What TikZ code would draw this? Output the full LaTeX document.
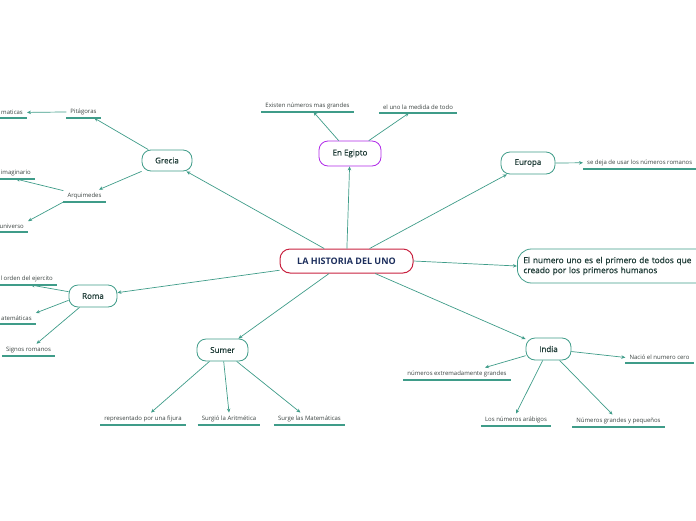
\documentclass[tikz,border=0pt]{standalone}
\usepackage{fontspec}
\setmainfont{Open Sans}
\newfontfamily\semib{Open Sans}[FakeBold=0.7]
\usetikzlibrary{arrows.meta}
\definecolor{teal1}{HTML}{3F9C89}
\definecolor{txt}{HTML}{1E3B36}
\definecolor{leaftxt}{HTML}{3A4240}
\definecolor{ctr}{HTML}{C8213F}
\definecolor{ctrtxt}{HTML}{1C2E5C}
\definecolor{purp}{HTML}{B02AE8}
\begin{document}
\begin{tikzpicture}[x=1pt,y=-1pt,
 topic/.style={draw=teal1, line width=0.8pt, rounded corners=9pt, fill=white, font=\semib\fontsize{8}{9}\selectfont, text=txt, inner sep=0pt},
 leaf/.style={font=\fontsize{6}{7}\selectfont, text=leaftxt, inner xsep=4pt, inner ysep=3pt},
 uline/.style={draw=teal1, line width=1.2pt},
 conn/.style={draw=teal1, line width=0.7pt, -{Stealth[length=4pt,width=3.5pt]}},
]
\useasboundingbox (0,0) rectangle (696,520);
% central
\node[draw=ctr, line width=1pt, rounded corners=10pt, minimum width=133pt, minimum height=24pt, inner sep=0pt, text=ctrtxt, font=\fontsize{9}{10}\selectfont\bfseries] (ctr) at (346.5,261) {LA HISTORIA DEL UNO};
% topics
\node[topic, minimum width=50pt, minimum height=21pt] (grecia) at (167,160.5) {Grecia};
\node[topic, draw=purp, minimum width=62pt, minimum height=25pt] (egipto) at (350,153.5) {En Egipto};
\node[topic, minimum width=54pt, minimum height=22pt] (europa) at (528,163) {Europa};
\node[topic, minimum width=48pt, minimum height=22pt] (roma) at (93,296) {Roma};
\node[topic, minimum width=51pt, minimum height=22pt] (sumer) at (222.5,350) {Sumer};
\node[topic, minimum width=45pt, minimum height=22pt] (india) at (548.5,349) {India};
\node[topic, rounded corners=14pt, anchor=west, minimum height=34pt, text width=190pt, align=left, inner xsep=6pt, font=\semib\fontsize{8.3}{10}\selectfont] (uno) at (517,266) {El numero uno es el primero de todos que\\creado por los primeros humanos};
% leaves
\node[leaf, anchor=south] (pit) at (83.5,118) {Pitágoras};
\node[leaf, anchor=south west] (mat1) at (-3,118) {maticas};
\node[leaf, anchor=south] (arq) at (84.5,202) {Arquimedes};
\node[leaf, anchor=south east] (imag) at (35,179) {imaginario};
\node[leaf, anchor=south east] (univ) at (28,232) {universo};
\node[leaf, anchor=south east] (orden) at (57,285) {l orden del ejercito};
\node[leaf, anchor=south west] (mat2) at (-3,324) {atemáticas};
\node[leaf, anchor=south] (signos) at (28.5,356) {Signos romanos};
\node[leaf, anchor=south] (existen) at (307.5,112) {Existen números mas grandes};
\node[leaf, anchor=south] (eluno) at (418,113) {el uno la medida de todo};
\node[leaf, anchor=south west] (sedeja) at (583,169) {se deja de usar los números romanos};
\node[leaf, anchor=south] (nacio) at (659.5,363) {Nació el numero cero};
\node[leaf, anchor=south] (extrem) at (457,380) {números extremadamente grandes};
\node[leaf, anchor=south] (arab) at (516,426) {Los números arábigos};
\node[leaf, anchor=south] (grandes) at (618.5,427) {Números grandes y pequeños};
\node[leaf, anchor=south] (repr) at (143,425) {representado por una fijura};
\node[leaf, anchor=south] (arit) at (229,425) {Surgió la Aritmética};
\node[leaf, anchor=south] (surge) at (309.5,425) {Surge las Matemáticas};
\foreach \n in {pit,mat1,arq,imag,univ,orden,mat2,signos,existen,eluno,sedeja,nacio,extrem,arab,grandes,repr,arit,surge}
  \draw[uline] (\n.south west) -- (\n.south east);
% main connectors
\draw[conn] (ctr) -- (grecia);
\draw[conn] (ctr) -- (egipto);
\draw[conn] (ctr) -- (europa);
\draw[conn] (ctr.east) -- (uno.west);
\draw[conn] (ctr) -- (roma);
\draw[conn] (ctr) -- (sumer);
\draw[conn] (ctr) -- (india);
% sub connectors
\draw[conn] (grecia) -- (pit);
\draw[conn] (pit) -- (mat1);
\draw[conn] (grecia) -- (arq);
\draw[conn] (arq) -- (imag.south);
\draw[conn] (arq.south west) -- (univ.north east);
\draw[conn] (roma.170) -- ([xshift=4pt]orden.south);
\draw[conn] (roma.190) -- (mat2.north east);
\draw[conn] (roma) -- ([xshift=8pt]signos.north);
\draw[conn] (egipto) -- ([xshift=6pt]existen.south);
\draw[conn] (egipto) -- ([xshift=-9pt]eluno.south);
\draw[conn] (europa.east) -- (sedeja.west);
\draw[conn] (india) -- (nacio.west);
\draw[conn] (india) -- ([xshift=28pt]extrem.north);
\draw[conn] (india) -- (arab.north);
\draw[conn] (india) -- ([xshift=-6pt]grandes.north);
\draw[conn] (sumer) -- ([xshift=8pt]repr.north);
\draw[conn] (sumer) -- (arit.north);
\draw[conn] (sumer) -- ([xshift=-9pt]surge.north);
\end{tikzpicture}
\end{document}
